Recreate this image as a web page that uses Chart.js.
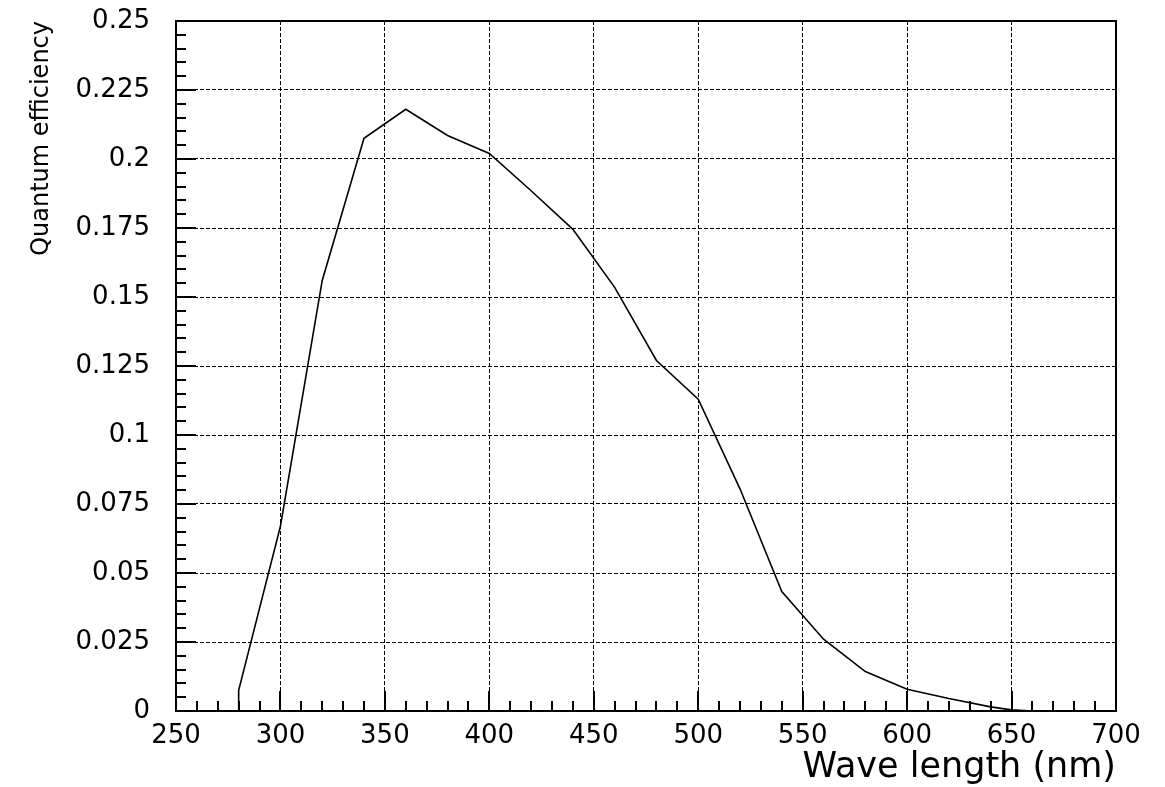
<!DOCTYPE html>
<html><head><meta charset="utf-8">
<script src="https://cdn.jsdelivr.net/npm/chart.js@4"></script>
<style>html,body{margin:0;padding:0;background:#fff;overflow:hidden}canvas{display:block}</style>
</head><body>
<canvas id="c" width="1165" height="787"></canvas>
<script>
// ---- data ----
const wavelengths = [280, 280, 300, 320, 340, 360, 380, 400, 420, 440, 460, 480, 500, 520, 540, 560, 580, 600, 620, 640, 650, 660];
const efficiency  = [0, 0.0075, 0.067, 0.156, 0.2075, 0.218, 0.2085, 0.202, 0.1885, 0.1745, 0.1535, 0.127, 0.113, 0.0805, 0.0433, 0.026, 0.0143, 0.0079, 0.0045, 0.0015, 0.0004, 0];
const xTickValues = [250, 300, 350, 400, 450, 500, 550, 600, 650, 700];
const yTickValues = [0, 0.025, 0.05, 0.075, 0.1, 0.125, 0.15, 0.175, 0.2, 0.225, 0.25];
const xMinorStep = 10;
const yMinorStep = 0.005;
const xTitle = 'Wave length (nm)';
const yTitle = 'Quantum efficiency';

const isMajor = (arr, v, eps) => arr.some(t => Math.abs(t - v) < eps);

const framePlugin = {
  id: 'frame',
  beforeDraw(chart) {
    const ctx = chart.ctx;
    ctx.save();
    ctx.fillStyle = '#fff';
    ctx.fillRect(0, 0, chart.width, chart.height);
    ctx.restore();
  },
  afterDatasetsDraw(chart) {
    const {ctx, chartArea: a, scales: {x, y}} = chart;
    ctx.save();
    ctx.strokeStyle = '#000';
    ctx.lineWidth = 2;
    const nx = Math.round((x.max - x.min) / xMinorStep);
    for (let i = 0; i <= nx; i++) {
      const v = x.min + i * xMinorStep;
      const px = Math.round(x.getPixelForValue(v));
      const len = isMajor(xTickValues, v, 1e-6) ? 20 : 10;
      ctx.beginPath(); ctx.moveTo(px, a.bottom); ctx.lineTo(px, a.bottom - len); ctx.stroke();
    }
    const ny = Math.round((y.max - y.min) / yMinorStep);
    for (let i = 0; i <= ny; i++) {
      const v = y.min + i * yMinorStep;
      const py = Math.round(y.getPixelForValue(v));
      const len = isMajor(yTickValues, v, 1e-7) ? 20 : 10;
      ctx.beginPath(); ctx.moveTo(a.left, py); ctx.lineTo(a.left + len, py); ctx.stroke();
    }
    ctx.strokeRect(Math.round(a.left), Math.round(a.top), Math.round(a.right - a.left), Math.round(a.bottom - a.top));
    ctx.restore();
  }
};

new Chart(document.getElementById('c'), {
  type: 'line',
  data: {
    datasets: [{
      data: wavelengths.map((w, i) => ({x: w, y: efficiency[i]})),
      borderColor: '#000',
      borderWidth: 1.6,
      pointRadius: 0,
      tension: 0,
      fill: false
    }]
  },
  options: {
    responsive: false,
    animation: false,
    devicePixelRatio: 1,
    layout: {padding: {left: 0, top: 0, right: 49, bottom: 0}},
    plugins: {legend: {display: false}, tooltip: {enabled: false}},
    scales: {
      x: {
        type: 'linear', min: 250, max: 700,
        afterBuildTicks: s => { s.ticks = xTickValues.map(v => ({value: v})); },
        afterFit: s => { s.height = 76; },
        ticks: {font: {family: 'DejaVu Sans', size: 26}, color: '#000', padding: 10, maxRotation: 0, autoSkip: false, callback: v => String(v)},
        grid: {color: '#000', lineWidth: 1, drawTicks: false},
        border: {display: false, dash: [4, 2]},
        title: {display: true, text: xTitle, align: 'end', color: '#000', font: {family: 'DejaVu Sans', size: 35, lineHeight: 1}, padding: {top: 0, bottom: 2}}
      },
      y: {
        type: 'linear', min: 0, max: 0.25,
        afterBuildTicks: s => { s.ticks = yTickValues.map(v => ({value: v})); },
        afterFit: s => { s.width = 176; s.paddingTop = 21; s.paddingBottom = 0; },
        ticks: {font: {family: 'DejaVu Sans', size: 26}, color: '#000', padding: 26, autoSkip: false, callback: v => String(v)},
        grid: {color: '#000', lineWidth: 1, drawTicks: false},
        border: {display: false, dash: [4, 2]},
        title: {display: true, text: yTitle, align: 'end', color: '#000', font: {family: 'DejaVu Sans', size: 24}, padding: {top: 27, bottom: 0}}
      }
    }
  },
  plugins: [framePlugin]
});
</script>
</body></html>
